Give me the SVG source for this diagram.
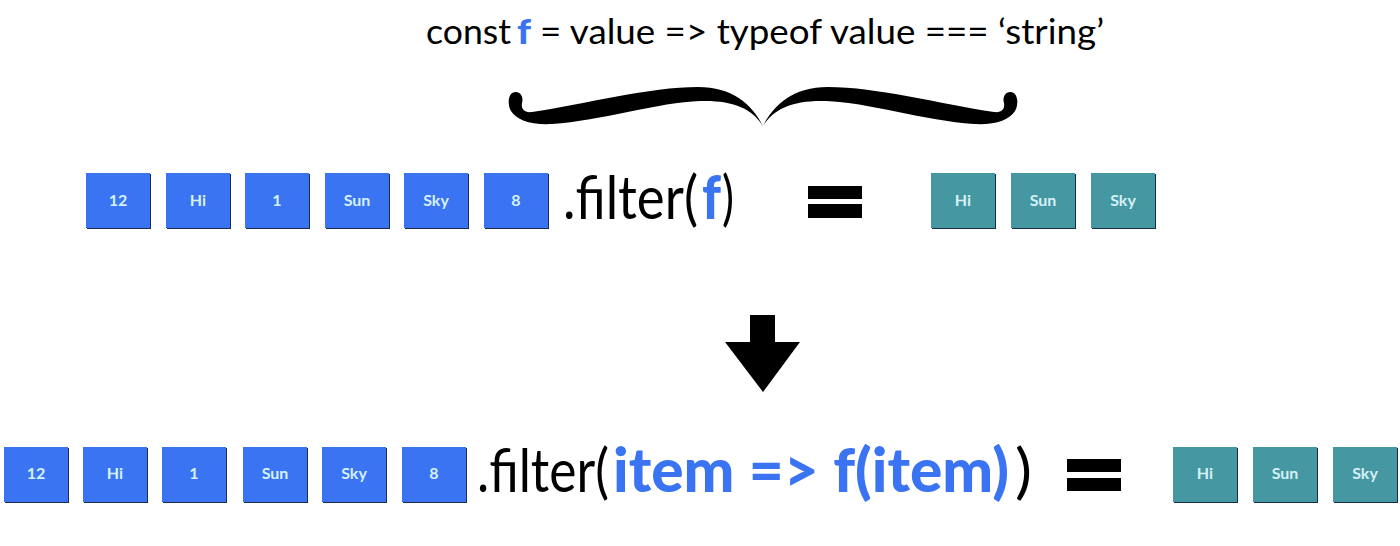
<svg xmlns="http://www.w3.org/2000/svg" width="1400" height="546" viewBox="0 0 1400 546">
  <style>
    .blue { fill: #3A74F2; }
    .teal { fill: #4597A1; }
    .shadow { fill: #1B2B4A; }
    .lbl { font-family: Lato, "Open Sans", sans-serif; font-weight: 700; font-size: 16px; fill: #D6F1F5; text-anchor: middle; }
    .code { font-family: Lato, "Open Sans", sans-serif; font-weight: 400; fill: #000000; }
    .hl { font-weight: 900; fill: #3A74F2; }
    .bar { fill: #000000; }
  </style>
  <defs>
    <g id="bbox">
      <rect class="shadow" x="1" y="1" width="64" height="55"/>
      <rect class="blue" x="0" y="0" width="64" height="55"/>
    </g>
    <g id="tbox">
      <rect class="shadow" x="1" y="1" width="64" height="55"/>
      <rect class="teal" x="0" y="0" width="64" height="55"/>
    </g>
  </defs>

  <!-- top definition -->
  <g id="definition">
    <text class="code" y="44" font-size="34"><tspan x="426" textLength="85" lengthAdjust="spacingAndGlyphs">const</tspan><tspan class="hl" x="517" textLength="14" lengthAdjust="spacingAndGlyphs">f</tspan><tspan x="540" textLength="564" lengthAdjust="spacingAndGlyphs">= value =&gt; typeof value === ‘string’</tspan></text>
  </g>

  <!-- top row input array -->
  <g id="row1-input">
    <g id="r1-12"><use href="#bbox" x="86" y="173"/><text class="lbl" x="118" y="206">12</text></g>
    <g id="r1-hi"><use href="#bbox" x="166" y="173"/><text class="lbl" x="198" y="206">Hi</text></g>
    <g id="r1-1"><use href="#bbox" x="245" y="173"/><text class="lbl" x="277" y="206">1</text></g>
    <g id="r1-sun"><use href="#bbox" x="325" y="173"/><text class="lbl" x="357" y="206">Sun</text></g>
    <g id="r1-sky"><use href="#bbox" x="404" y="173"/><text class="lbl" x="436" y="206">Sky</text></g>
    <g id="r1-8"><use href="#bbox" x="484" y="173"/><text class="lbl" x="516" y="206">8</text></g>
  </g>
  <g id="row1-call">
    <text class="code" y="219" font-size="60"><tspan x="563" textLength="135" lengthAdjust="spacingAndGlyphs">.filter(</tspan><tspan class="hl" x="702" textLength="19" lengthAdjust="spacingAndGlyphs">f</tspan><tspan x="722" textLength="12" lengthAdjust="spacingAndGlyphs">)</tspan></text>
  </g>
  <g id="row1-equals">
    <rect class="bar" x="808" y="186" width="54" height="13"/>
    <rect class="bar" x="808" y="204" width="54" height="14"/>
  </g>
  <g id="row1-output">
    <g id="r1o-hi"><use href="#tbox" x="931" y="173"/><text class="lbl" x="963" y="206">Hi</text></g>
    <g id="r1o-sun"><use href="#tbox" x="1011" y="173"/><text class="lbl" x="1043" y="206">Sun</text></g>
    <g id="r1o-sky"><use href="#tbox" x="1091" y="173"/><text class="lbl" x="1123" y="206">Sky</text></g>
  </g>

  <!-- bottom row -->
  <g id="row2-input">
    <g id="r2-12"><use href="#bbox" x="4" y="447"/><text class="lbl" x="36" y="479">12</text></g>
    <g id="r2-hi"><use href="#bbox" x="83" y="447"/><text class="lbl" x="115" y="479">Hi</text></g>
    <g id="r2-1"><use href="#bbox" x="162" y="447"/><text class="lbl" x="194" y="479">1</text></g>
    <g id="r2-sun"><use href="#bbox" x="243" y="447"/><text class="lbl" x="275" y="479">Sun</text></g>
    <g id="r2-sky"><use href="#bbox" x="322" y="447"/><text class="lbl" x="354" y="479">Sky</text></g>
    <g id="r2-8"><use href="#bbox" x="402" y="447"/><text class="lbl" x="434" y="479">8</text></g>
  </g>
  <g id="row2-call">
    <text class="code" y="492" font-size="60"><tspan x="477" textLength="132" lengthAdjust="spacingAndGlyphs">.filter(</tspan><tspan class="hl" x="613" textLength="396" lengthAdjust="spacingAndGlyphs">item =&gt; f(item)</tspan><tspan x="1015" textLength="17" lengthAdjust="spacingAndGlyphs">)</tspan></text>
  </g>
  <g id="row2-equals">
    <rect class="bar" x="1067" y="459" width="54" height="13"/>
    <rect class="bar" x="1067" y="478" width="54" height="13"/>
  </g>
  <g id="row2-output">
    <g id="r2o-hi"><use href="#tbox" x="1173" y="447"/><text class="lbl" x="1205" y="479">Hi</text></g>
    <g id="r2o-sun"><use href="#tbox" x="1253" y="447"/><text class="lbl" x="1285" y="479">Sun</text></g>
    <g id="r2o-sky"><use href="#tbox" x="1333" y="447"/><text class="lbl" x="1365" y="479">Sky</text></g>
  </g>

  <!-- connectors -->
  <g id="connectors">
    <path id="brace" fill="#000000" d="M 763 126
      C 752 104, 732 87, 698 87
      C 650 87, 585 104, 532 112
      C 524 113, 521 109, 522 103
      C 524 97, 520 91, 515 92
      C 508 93, 507 104, 511 111
      C 517 120, 530 125, 552 124
      C 600 121, 660 102, 700 101
      C 732 100, 752 108, 763 126 Z
      M 763 126
      C 774 104, 794 87, 828 87
      C 876 87, 941 104, 994 112
      C 1002 113, 1005 109, 1004 103
      C 1002 97, 1006 91, 1011 92
      C 1018 93, 1019 104, 1015 111
      C 1009 120, 996 125, 974 124
      C 926 121, 866 102, 826 101
      C 794 100, 774 108, 763 126 Z"/>
    <polygon id="down-arrow" fill="#000000" points="750,315 775,315 775,342 800,342 763,392 725,342 750,342"/>
  </g>
</svg>
